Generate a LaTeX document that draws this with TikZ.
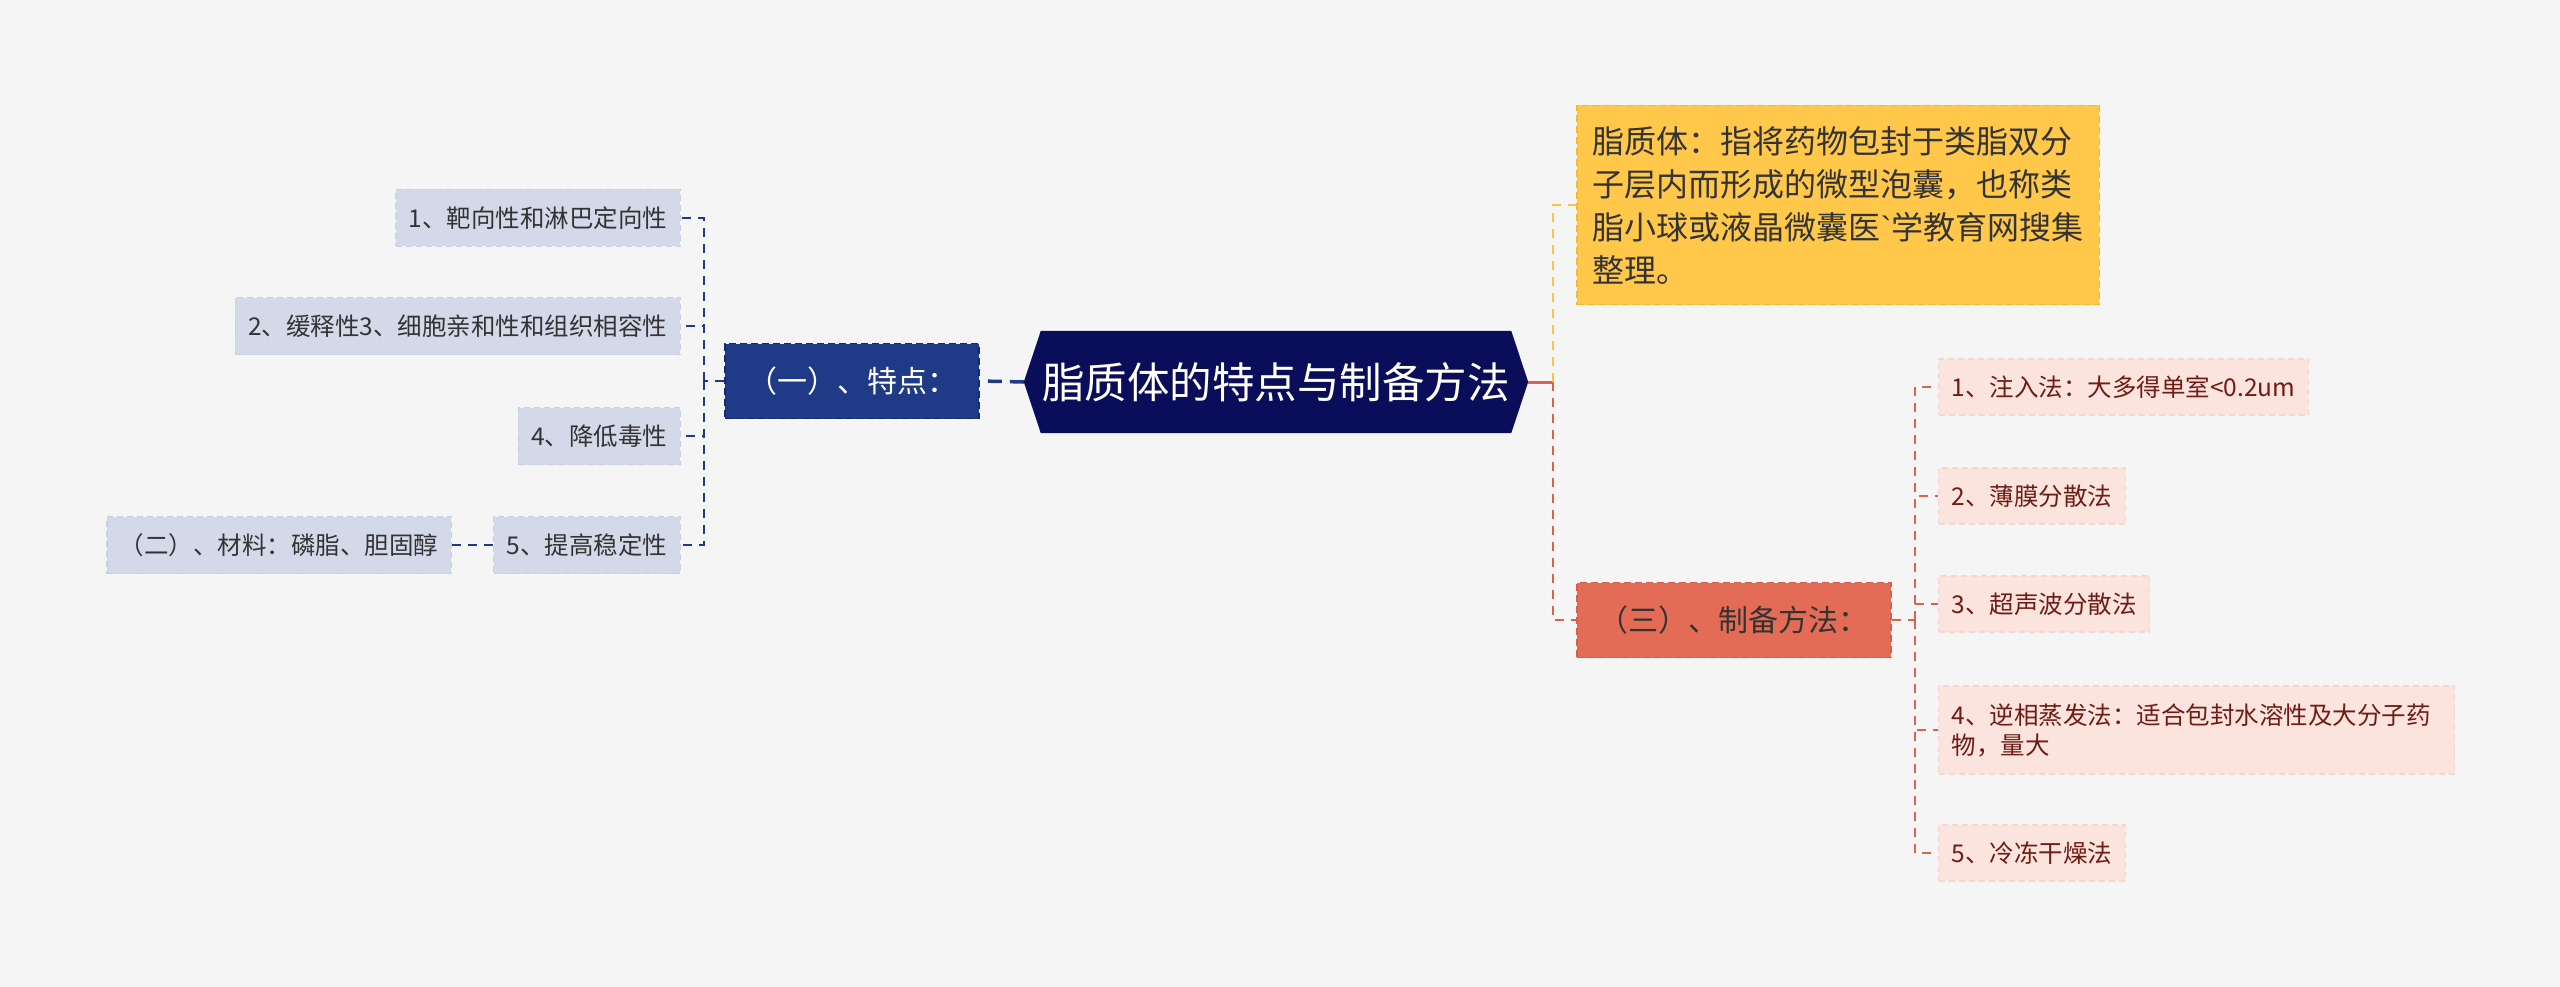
\documentclass[tikz,border=0pt]{standalone}
\usepackage{fontspec}
\setmainfont{Noto Sans CJK SC}
\newfontfamily\latinfont{Liberation Sans}
\usetikzlibrary{backgrounds}
\definecolor{bg}{HTML}{F5F5F5}
\definecolor{rootc}{HTML}{0A0E5A}
\definecolor{navy}{HTML}{1F3B88}
\definecolor{navyb}{HTML}{142C6C}
\definecolor{leafl}{HTML}{D4D9EA}
\definecolor{leaflb}{HTML}{C9CFE3}
\definecolor{yel}{HTML}{FFC84A}
\definecolor{yelb}{HTML}{F2B935}
\definecolor{org}{HTML}{E46C57}
\definecolor{orgb}{HTML}{D45F4B}
\definecolor{orgl}{HTML}{D9634F}
\definecolor{pink}{HTML}{FBE3DE}
\definecolor{pinkb}{HTML}{F6D6CF}
\definecolor{dred}{HTML}{6E1C14}
\definecolor{txt}{HTML}{333333}
\tikzset{
  leaffont/.style={font=\fontsize{24.5}{30}\selectfont},
  leftleaf/.style={leaffont, fill=leafl, draw=leaflb, dash pattern=on 6pt off 4pt, line width=1.2pt, text=txt, inner xsep=13pt, inner ysep=0pt, minimum height=57pt, anchor=east},
  rightleaf/.style={leaffont, fill=pink, draw=pinkb, dash pattern=on 6pt off 4pt, line width=1.2pt, text=dred, inner xsep=13pt, inner ysep=0pt, minimum height=56pt, anchor=west},
  topicbox/.style={font=\fontsize{30}{36}\selectfont, inner xsep=22pt, inner ysep=0pt, minimum height=75pt, line width=1.6pt, dash pattern=on 7pt off 4pt},
  lconn/.style={draw=navy, line width=2pt, dash pattern=on 9pt off 7pt},
  rconn/.style={draw=orgl, line width=1.5pt, dash pattern=on 9pt off 7pt},
}
\begin{document}
\begin{tikzpicture}[x=1pt,y=-1pt]
\begin{pgfonlayer}{background}
\fill[bg] (0,0) rectangle (2560,987);
\end{pgfonlayer}
\useasboundingbox (0,0) rectangle (2560,987);
% root
\node[text=white, font=\fontsize{42.5}{48}\selectfont, minimum width=470pt, minimum height=102pt, inner xsep=0pt, inner ysep=0pt] (root) at (1276,382) {脂质体的特点与制备方法};
\begin{pgfonlayer}{background}
\fill[rootc] ([xshift=-17pt]root.west) -- (root.north west) -- (root.north east) -- ([xshift=17pt]root.east)
  -- (root.south east) -- (root.south west) -- cycle;
\end{pgfonlayer}
\coordinate (rootL) at ([xshift=-17pt]root.west);
\coordinate (rootR) at ([xshift=17pt]root.east);
% left branch
\node[topicbox, fill=navy, draw=navyb, text=white, anchor=east] (t1) at (980,381) {（一）、特点：};
\node[leftleaf] (l1) at (681,218) {1、靶向性和淋巴定向性};
\node[leftleaf] (l2) at (681,326) {2、缓释性3、细胞亲和性和组织相容性};
\node[leftleaf] (l3) at (681,436) {4、降低毒性};
\node[leftleaf] (l4) at (681,545) {5、提高稳定性};
\node[leftleaf] (mat) at (452,545) {（二）、材料：磷脂、胆固醇};
\coordinate (lj) at (704,381);
\draw[navy, line width=3.5pt, dash pattern=on 14pt off 8pt] (rootL) -- (t1.east);
\draw[lconn] (t1.west) -- (lj);
\foreach \n in {l1,l2,l3,l4} \draw[lconn] (lj) |- (\n.east);
\draw[lconn] (l4.west) -- (mat.east);
% right branch
\node[fill=yel, draw=yelb, line width=1.6pt, dash pattern=on 7pt off 4pt, text=txt, anchor=west,
  font=\fontsize{32}{43}\selectfont, align=left, inner xsep=16pt, inner ysep=17pt, minimum height=199pt, minimum width=522pt] (def) at (1576,205)
  {脂质体：指将药物包封于类脂双分\\子层内而形成的微型泡囊，也称类\\脂小球或液晶微囊医{\latinfont`}学教育网搜集\\整理。};
\node[topicbox, fill=org, draw=orgb, text=txt, anchor=west] (t3) at (1576,620) {（三）、制备方法：};
\coordinate (rj) at (1553,382);
\draw[orgl, line width=3pt] (rootR) -- (rj);
\draw[draw=yel!90!orange, line width=2.2pt, dash pattern=on 9pt off 7pt] (rj) |- (def.west);
\draw[orgl, line width=2.2pt, dash pattern=on 9pt off 7pt] (rj) |- (t3.west);
\node[rightleaf] (r1) at (1938,387) {1、注入法：大多得单室<0.2um};
\node[rightleaf] (r2) at (1938,496) {2、薄膜分散法};
\node[rightleaf] (r3) at (1938,604) {3、超声波分散法};
\node[rightleaf, align=left, minimum height=88pt, text width=490pt] (r4) at (1938,730) {4、逆相蒸发法：适合包封水溶性及大分子药\\物，量大};
\node[rightleaf] (r5) at (1938,853) {5、冷冻干燥法};
\coordinate (rk) at (1915,620);
\draw[rconn] (t3.east) -- (rk);
\foreach \n in {r1,r2,r3,r4,r5} \draw[rconn] (rk) |- (\n.west);
\end{tikzpicture}
\end{document}
